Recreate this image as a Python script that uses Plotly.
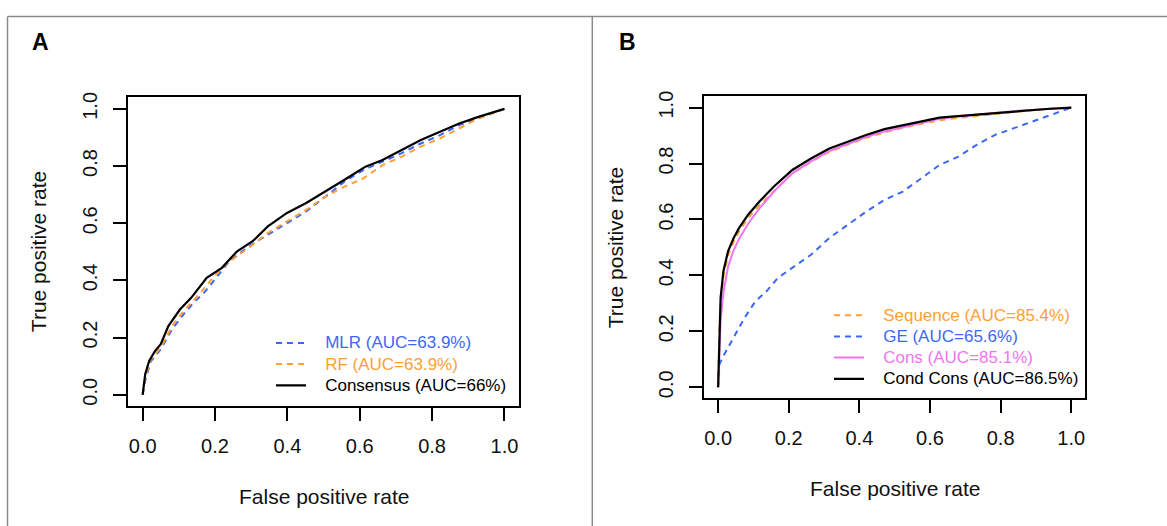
import plotly.graph_objects as go

W, H = 1167, 526
FONT = "Liberation Sans, Arial, Helvetica, sans-serif"

BLUE = "#3D68F5"
ORANGE = "#FFA033"
VIOLET = "#F075F0"
BLACK = "#000000"

# ---------------- Panel A data ----------------
A_cons_fpr = [0, 0.007, 0.018, 0.034, 0.05, 0.071, 0.103, 0.134, 0.177, 0.219, 0.261, 0.304,
              0.346, 0.399, 0.452, 0.505, 0.558, 0.616, 0.663, 0.716, 0.769, 0.822, 0.875, 0.928, 1]
A_cons_tpr = [0, 0.072, 0.118, 0.153, 0.177, 0.24, 0.298, 0.339, 0.409, 0.444, 0.502, 0.537,
              0.589, 0.636, 0.671, 0.711, 0.752, 0.798, 0.821, 0.856, 0.891, 0.92, 0.949, 0.972, 1]

A_mlr_fpr = [0, 0.007, 0.023, 0.05, 0.081, 0.113, 0.145, 0.166, 0.24, 0.293, 0.346, 0.399, 0.452,
             0.505, 0.558, 0.61, 0.663, 0.716, 0.769, 0.822, 0.875, 0.93, 1]
A_mlr_tpr = [0, 0.049, 0.118, 0.159, 0.229, 0.281, 0.328, 0.351, 0.467, 0.519, 0.56, 0.6, 0.641,
             0.693, 0.746, 0.786, 0.815, 0.845, 0.879, 0.908, 0.943, 0.968, 1]

A_rf_fpr = [0, 0.007, 0.023, 0.05, 0.081, 0.113, 0.156, 0.198, 0.24, 0.293, 0.346, 0.399, 0.452,
            0.505, 0.558, 0.61, 0.663, 0.716, 0.769, 0.822, 0.875, 0.928, 1]
A_rf_tpr = [0, 0.06, 0.125, 0.165, 0.24, 0.293, 0.351, 0.415, 0.467, 0.514, 0.566, 0.606, 0.647,
            0.693, 0.728, 0.757, 0.803, 0.833, 0.868, 0.897, 0.932, 0.966, 1]

# ---------------- Panel B data ----------------
B_cc_fpr = [0, 0.002, 0.004, 0.007, 0.015, 0.028, 0.044, 0.059, 0.085, 0.117, 0.158, 0.21, 0.263,
            0.315, 0.367, 0.419, 0.471, 0.523, 0.575, 0.627, 0.679, 0.731, 0.783, 0.835, 0.888, 0.94, 1]
B_cc_tpr = [0, 0.119, 0.237, 0.32, 0.415, 0.486, 0.534, 0.569, 0.617, 0.664, 0.718, 0.777, 0.818,
            0.854, 0.878, 0.902, 0.923, 0.937, 0.951, 0.964, 0.97, 0.975, 0.982, 0.987, 0.992, 0.996, 1]

B_cons_fpr = [0, 0.003, 0.007, 0.015, 0.028, 0.044, 0.059, 0.085, 0.117, 0.158, 0.21, 0.263,
              0.315, 0.367, 0.419, 0.471, 0.523, 0.575, 0.627, 0.679, 0.731, 0.783, 0.835, 0.888, 0.94, 1]
B_cons_tpr = [0, 0.12, 0.24, 0.34, 0.43, 0.49, 0.53, 0.585, 0.64, 0.70, 0.765, 0.808,
              0.845, 0.87, 0.895, 0.915, 0.93, 0.945, 0.96, 0.968, 0.975, 0.982, 0.987, 0.992, 0.996, 1]

B_seq_fpr = [0, 0.002, 0.004, 0.008, 0.016, 0.03, 0.046, 0.062, 0.088, 0.12, 0.16, 0.21, 0.263,
             0.315, 0.367, 0.419, 0.471, 0.523, 0.575, 0.627, 0.679, 0.731, 0.783, 0.835, 0.888, 0.94, 1]
B_seq_tpr = [0, 0.11, 0.225, 0.31, 0.405, 0.478, 0.527, 0.563, 0.61, 0.655, 0.705, 0.765, 0.806,
             0.842, 0.868, 0.892, 0.911, 0.928, 0.942, 0.955, 0.963, 0.97, 0.979, 0.985, 0.991, 0.996, 1]

B_ge_fpr = [0, 0.004, 0.018, 0.039, 0.054, 0.075, 0.106, 0.1375, 0.169, 0.21, 0.263, 0.315, 0.367,
            0.419, 0.471, 0.523, 0.575, 0.627, 0.679, 0.731, 0.783, 0.835, 0.888, 0.94, 1]
B_ge_tpr = [0, 0.083, 0.119, 0.166, 0.202, 0.249, 0.308, 0.344, 0.391, 0.427, 0.474, 0.534, 0.581,
            0.628, 0.67, 0.7, 0.747, 0.795, 0.824, 0.866, 0.902, 0.925, 0.949, 0.973, 1]

tick_vals = [0, 0.2, 0.4, 0.6, 0.8, 1.0]
tick_text = ["0.0", "0.2", "0.4", "0.6", "0.8", "1.0"]


def px_x(p):
    return p / W


def px_y(p):
    return 1 - p / H


NB = "\u00a0\u00a0\u00a0"


def lab(text, color):
    return f"<span style='color:{color};font-size:17px'>{NB}{text}</span>"


fig = go.Figure()

dash = "6px,5px"
# Panel A
fig.add_trace(go.Scatter(x=A_mlr_fpr, y=A_mlr_tpr, mode="lines", xaxis="x", yaxis="y",
                         line=dict(color=BLUE, width=2, dash=dash),
                         name=lab("MLR (AUC=63.9%)", BLUE), legend="legend"))
fig.add_trace(go.Scatter(x=A_rf_fpr, y=A_rf_tpr, mode="lines", xaxis="x", yaxis="y",
                         line=dict(color=ORANGE, width=2, dash=dash),
                         name=lab("RF (AUC=63.9%)", ORANGE), legend="legend"))
fig.add_trace(go.Scatter(x=A_cons_fpr, y=A_cons_tpr, mode="lines", xaxis="x", yaxis="y",
                         line=dict(color=BLACK, width=2.2),
                         name=lab("Consensus (AUC=66%)", BLACK), legend="legend"))

# Panel B
fig.add_trace(go.Scatter(x=B_ge_fpr, y=B_ge_tpr, mode="lines", xaxis="x2", yaxis="y2",
                         line=dict(color=BLUE, width=2, dash=dash),
                         name=lab("GE (AUC=65.6%)", BLUE), legend="legend2", legendrank=2))
fig.add_trace(go.Scatter(x=B_seq_fpr, y=B_seq_tpr, mode="lines", xaxis="x2", yaxis="y2",
                         line=dict(color=ORANGE, width=2, dash=dash),
                         name=lab("Sequence (AUC=85.4%)", ORANGE), legend="legend2", legendrank=1))
fig.add_trace(go.Scatter(x=B_cons_fpr, y=B_cons_tpr, mode="lines", xaxis="x2", yaxis="y2",
                         line=dict(color=VIOLET, width=2),
                         name=lab("Cons (AUC=85.1%)", VIOLET), legend="legend2", legendrank=3))
fig.add_trace(go.Scatter(x=B_cc_fpr, y=B_cc_tpr, mode="lines", xaxis="x2", yaxis="y2",
                         line=dict(color=BLACK, width=2.2),
                         name=lab("Cond Cons (AUC=86.5%)", BLACK), legend="legend2", legendrank=4))

axis_common = dict(range=[-0.04, 1.04], showline=True, mirror=True, linecolor="black", linewidth=2,
                   ticks="outside", ticklen=13, tickwidth=2, tickcolor="black",
                   tickvals=tick_vals, ticktext=tick_text, showgrid=False, zeroline=False,
                   tickfont=dict(family=FONT, size=20, color="#111111"), fixedrange=True)

fig.update_layout(
    width=W, height=H,
    margin=dict(l=0, r=0, t=0, b=0),
    paper_bgcolor="white", plot_bgcolor="white",
    xaxis=dict(domain=[px_x(128.2), px_x(518.9)], anchor="y", ticklabelstandoff=8, **axis_common),
    yaxis=dict(domain=[px_y(404.8), px_y(92.5)], anchor="x", tickangle=-90, ticklabelstandoff=8, **axis_common),
    xaxis2=dict(domain=[px_x(704), px_x(1085.4)], anchor="y2", ticklabelstandoff=8, **axis_common),
    yaxis2=dict(domain=[px_y(397), px_y(91.5)], anchor="x2", tickangle=-90, ticklabelstandoff=8, **axis_common),
    legend=dict(x=px_x(271), y=px_y(325), xanchor="left", yanchor="top",
                font=dict(family=FONT, size=14, color="black"), bgcolor="rgba(0,0,0,0)",
                tracegroupgap=0, itemclick=False, traceorder="normal"),
    legend2=dict(x=px_x(829), y=px_y(297), xanchor="left", yanchor="top",
                 font=dict(family=FONT, size=14, color="black"), bgcolor="rgba(0,0,0,0)",
                 tracegroupgap=0, itemclick=False, traceorder="normal"),
    showlegend=True,
)

ann_font = dict(family=FONT, size=21, color="#111111")
annotations = [
    dict(text="<b>A</b>", x=px_x(40.5), y=px_y(36), font=dict(family=FONT, size=23, color="black")),
    dict(text="<b>B</b>", x=px_x(627.5), y=px_y(36), font=dict(family=FONT, size=23, color="black")),
    dict(text="False positive rate", x=px_x(323.5), y=px_y(496.6), font=ann_font),
    dict(text="False positive rate", x=px_x(894.7), y=px_y(487.6), font=ann_font),
    dict(text="True positive rate", x=px_x(38), y=px_y(249), textangle=-90, font=ann_font),
    dict(text="True positive rate", x=px_x(615), y=px_y(245), textangle=-90, font=ann_font),
]
for a in annotations:
    a.update(xref="paper", yref="paper", showarrow=False, xanchor="center", yanchor="middle")
fig.update_layout(annotations=annotations)

frame = dict(color="#8a8a8a", width=1.5)
shapes = [
    dict(type="line", x0=px_x(7.5), x1=1, y0=px_y(10.5), y1=px_y(10.5), line=frame),
    dict(type="line", x0=px_x(7.5), x1=px_x(7.5), y0=px_y(10.5), y1=0, line=frame),
    dict(type="line", x0=px_x(592.3), x1=px_x(592.3), y0=px_y(10.5), y1=0, line=frame),
]
for s in shapes:
    s.update(xref="paper", yref="paper", layer="below")
fig.update_layout(shapes=shapes)

fig.write_html("out.html", config={"displayModeBar": False},
               post_script="document.body.style.margin='0';document.body.style.padding='0';"
                           "document.body.style.overflow='hidden';")
